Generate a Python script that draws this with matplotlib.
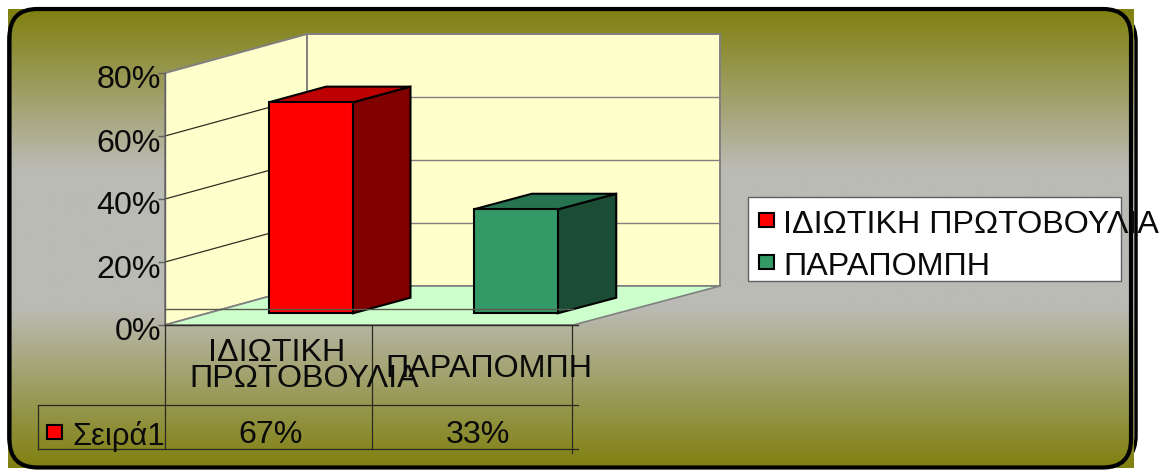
import numpy as np
import matplotlib
matplotlib.use("Agg")
import matplotlib.pyplot as plt
import matplotlib.transforms as mtrans
from matplotlib.patches import FancyBboxPatch, Polygon, Rectangle

plt.rcParams['font.family'] = ['Liberation Sans', 'DejaVu Sans']

categories = ['ΙΔΙΩΤΙΚΗ ΠΡΩΤΟΒΟΥΛΙΑ', 'ΠΑΡΑΠΟΜΠΗ']
values = [67, 33]
value_labels = ['67%', '33%']
series_name = 'Σειρά1'
y_ticks = [0, 20, 40, 60, 80]

front_colors = ['#ff0000', '#339966']
side_colors = ['#800000', '#1a4d33']
top_colors = ['#bf0000', '#267350']

W, H = 1165, 470
FONT = 23.2
# depth of the 3d box, in data units of the front plane
DEPTH_X = 142 / 204
DEPTH_Y = 39 / 3.15
# the back wall is a bit wider than the front edge
BACK_SPREAD = 2.5 / 204

fig = plt.figure(figsize=(W / 100, H / 100), dpi=100, facecolor='white')

# background with the frame, in pixels
bg = fig.add_axes([0, 0, 1, 1])
bg.axis('off')
bg.add_patch(FancyBboxPatch((9, 13), 1127, 451, boxstyle='round,pad=0,rounding_size=28',
                            fc='none', ec='black', lw=2.5, zorder=1))
rows = np.linspace(0, 1, 230)
top_rgb = np.array([128, 128, 16]) / 255
mid_rgb = np.array([187, 187, 181]) / 255
amount = np.interp(rows, [0, 0.35, 0.65, 1], [0, 1, 1, 0])
grad = np.array([top_rgb + (mid_rgb - top_rgb) * a for a in amount])
bg.imshow(grad[:, None, :], extent=(8, 1134, 468, 9), aspect='auto', zorder=2, interpolation='bilinear')
bg.set_xlim(0, W)
bg.set_ylim(H, 0)
bg.add_patch(FancyBboxPatch((9.5, 9), 1121.5, 458.5, boxstyle='round,pad=0,rounding_size=28',
                            fc='none', ec='black', lw=3, zorder=3))

# front plane of the chart: categories on x, percent on y
ax = fig.add_axes([165 / W, (H - 325) / H, 408 / W, 252 / H])
ax.patch.set_visible(False)
ax.set_xlim(0, len(categories))
ax.set_ylim(0, y_ticks[-1])
for s in ax.spines.values():
    s.set_visible(False)
ax.spines['left'].set_visible(True)
ax.spines['left'].set_color('#606060')
ax.spines['left'].set_linewidth(1)
ax.set_xticks([])
ax.set_yticks(y_ticks)
ax.set_yticklabels(['%d%%' % t for t in y_ticks], fontsize=FONT, color='#0a0a0a')
ax.tick_params(axis='y', length=5, width=1, color='#606060', pad=0)
shift = mtrans.ScaledTranslation(3 / 100, -4 / 100, fig.dpi_scale_trans)
for lab in ax.get_yticklabels():
    lab.set_transform(lab.get_transform() + shift)


def box_point(x, v, d):
    # x, value and depth (0 to 1) to front plane data coordinates
    return (x + d * (DEPTH_X + x * BACK_SPREAD), v + d * DEPTH_Y)


def face(points, fc, ec, lw, z):
    ax.add_patch(Polygon([box_point(*p) for p in points], closed=True, fc=fc, ec=ec,
                         lw=lw, zorder=z, clip_on=False, joinstyle='miter'))


n = len(categories)
ymax = y_ticks[-1]
# walls and floor
face([(0, 0, 0), (0, 0, 1), (0, ymax, 1), (0, ymax, 0)], '#ffffcc', '#808080', 1.4, 1)
face([(0, 0, 1), (n, 0, 1), (n, ymax, 1), (0, ymax, 1)], '#ffffcc', '#808080', 1.4, 1)
face([(0, 0, 0), (n, 0, 0), (n, 0, 1), (0, 0, 1)], '#ccffcc', '#808080', 1.2, 2)
for t in y_ticks[1:-1]:
    xs, ys = zip(box_point(0, t, 0), box_point(0, t, 1), box_point(n, t, 1))
    ax.plot(xs[:2], ys[:2], color='#303020', lw=0.9, zorder=1.5, clip_on=False)
    ax.plot(xs[1:], ys[1:], color='#808080', lw=1, zorder=1.5, clip_on=False)

# bars
bar_w = 0.41
for i, v in enumerate(values):
    x0 = i + 0.30
    x1 = x0 + bar_w
    face([(x1, 0, 0.3), (x1, 0, 0.7), (x1, v, 0.7), (x1, v, 0.3)], side_colors[i], 'black', 1.5, 3)
    face([(x0, v, 0.3), (x1, v, 0.3), (x1, v, 0.7), (x0, v, 0.7)], top_colors[i], 'black', 1.5, 3)
    face([(x0, 0, 0.3), (x1, 0, 0.3), (x1, v, 0.3), (x0, v, 0.3)], front_colors[i], 'black', 1.5, 4)

# table, legend and other text on top, in pixels
top = fig.add_axes([0, 0, 1, 1])
top.patch.set_visible(False)
top.set_xlim(0, W)
top.set_ylim(H, 0)
top.axis('off')

line_col = '#2a2a20'
top.plot([165, 573], [309, 309], color='#5a5a50', lw=1)
top.plot([165, 578], [325, 325], color=line_col, lw=1)
top.plot([38, 578], [405, 405], color=line_col, lw=0.9)
top.plot([38, 578], [449, 449], color=line_col, lw=0.9)
top.plot([38, 38], [405, 449], color=line_col, lw=0.9)
top.plot([165, 165], [325, 449], color=line_col, lw=0.9)
top.plot([372, 372], [325, 449], color=line_col, lw=0.9)
top.plot([572, 572], [325, 453], color=line_col, lw=0.9)

first, second = categories[0].split(' ')
txt = dict(fontsize=FONT, color='#0a0a0a', ha='center', va='baseline')
top.text(277, 361, first, **txt)
top.text(304, 387, second, **txt)
top.text(489, 377, categories[1], **txt)
top.text(271, 443, value_labels[0], **txt)
top.text(478, 443, value_labels[1], **txt)
top.text(72, 445, series_name, fontsize=22.2, color='#0a0a0a', ha='left', va='baseline')
top.add_patch(Rectangle((47, 425), 15, 14, fc=front_colors[0], ec='black', lw=1.5))

top.add_patch(Rectangle((748, 197), 373, 84, fc='white', ec='#606060', lw=1, zorder=2))
for i, c in enumerate(categories):
    y = 220 + 42 * i
    top.add_patch(Rectangle((759, y - 7), 15, 14, fc=front_colors[i], ec='black', lw=1.5, zorder=3))
    top.text(783, y + 13, c, fontsize=FONT, color='#0a0a0a', ha='left', va='baseline', zorder=3)

fig.savefig('out.png', dpi=100)
